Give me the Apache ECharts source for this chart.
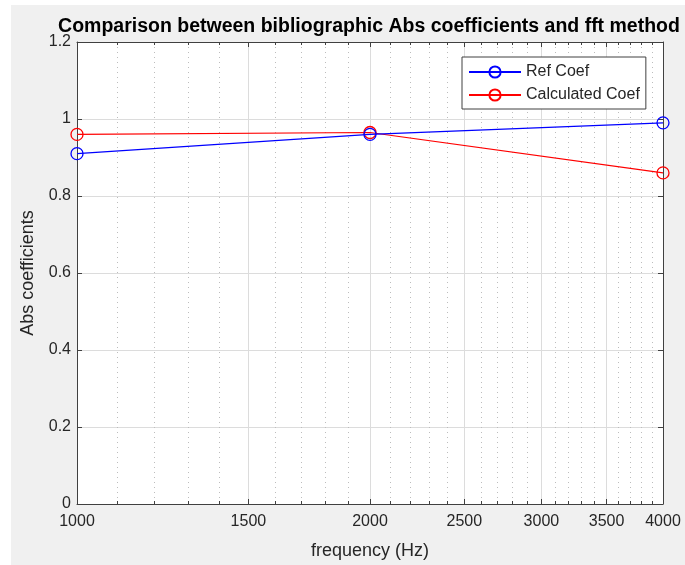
<!DOCTYPE html>
<html>
<head>
<meta charset="utf-8">
<script src="https://cdn.jsdelivr.net/npm/echarts@6/dist/echarts.min.js"></script>
<style>
html,body{margin:0;padding:0;background:#ffffff;width:685px;height:565px;overflow:hidden;}
#chart{position:absolute;left:11px;top:5px;width:674px;height:560px;background:#f0f0f0;}
</style>
</head>
<body>
<div id="chart"></div>
<script>
// ---- data ----
var frequencies = [1000, 2000, 4000];
var refCoef = [0.91, 0.96, 0.99];
var calcCoef = [0.96, 0.965, 0.86];
var xTickLabels = [1000, 1500, 2000, 2500, 3000, 3500, 4000];
var yTicks = [0, 0.2, 0.4, 0.6, 0.8, 1, 1.2];
var seriesNames = ['Ref Coef', 'Calculated Coef'];
var titleText = 'Comparison between bibliographic Abs coefficients and fft method';
var xName = 'frequency (Hz)';
var yName = 'Abs coefficients';

// ---- helpers ----
function lg(v) { return Math.log10(v); }
var xMin = lg(1000), xMax = lg(4000);
var majorVals = xTickLabels.map(lg);
var minorVals = [];
for (var f = 1100; f < 4000; f += 100) {
  if (xTickLabels.indexOf(f) < 0) minorVals.push(lg(f));
}
function pairs(vals) {
  return frequencies.map(function (f, i) { return [lg(f), vals[i]]; });
}

var axisColor = '#404040';
var textColor = '#262626';
var font = 'Liberation Sans, Arial, Helvetica, sans-serif';

var chart = echarts.init(document.getElementById('chart'));
chart.setOption({
  animation: false,
  backgroundColor: '#f0f0f0',
  title: {
    text: titleText,
    left: 358,
    textAlign: 'center',
    top: 12,
    padding: 0,
    textStyle: { fontFamily: font, fontSize: 19.5, fontWeight: 'bold', color: '#000' }
  },
  grid: {
    left: 65, right: 22, top: 37, bottom: 60,
    show: true, backgroundColor: '#ffffff', borderWidth: 0
  },
  legend: {
    orient: 'vertical',
    left: 451, top: 52,
    padding: [7, 6, 6, 6],
    itemWidth: 52, itemHeight: 14, itemGap: 7,
    backgroundColor: '#ffffff',
    borderColor: '#404040', borderWidth: 1,
    data: seriesNames,
    textStyle: { fontFamily: font, fontSize: 16, color: textColor }
  },
  xAxis: [
    {
      type: 'value', min: xMin, max: xMax, position: 'bottom',
      name: xName, nameLocation: 'middle', nameGap: 38,
      nameTextStyle: { fontFamily: font, fontSize: 18, color: textColor },
      axisLine: { show: true, lineStyle: { color: axisColor, width: 1 } },
      axisTick: { show: true, inside: true, length: 5, customValues: majorVals, lineStyle: { color: axisColor } },
      axisLabel: {
        show: true, customValues: majorVals, margin: 10,
        fontFamily: font, fontSize: 16, color: textColor,
        formatter: function (v) { return String(Math.round(Math.pow(10, v))); }
      },
      splitLine: { show: true, lineStyle: { color: '#dcdcdc', width: 1 } }
    },
    {
      type: 'value', min: xMin, max: xMax, position: 'bottom',
      axisLine: { show: false },
      axisTick: { show: true, inside: true, length: 3, customValues: minorVals, lineStyle: { color: axisColor } },
      axisLabel: { show: false, customValues: minorVals },
      splitLine: { show: true, lineStyle: { color: '#bdbdbd', width: 1, type: [1, 4] } }
    },
    {
      type: 'value', min: xMin, max: xMax, position: 'top',
      axisLine: { show: true, lineStyle: { color: axisColor, width: 1 } },
      axisTick: { show: true, inside: true, length: 5, customValues: majorVals, lineStyle: { color: axisColor } },
      axisLabel: { show: false, customValues: majorVals },
      splitLine: { show: false }
    },
    {
      type: 'value', min: xMin, max: xMax, position: 'top',
      axisLine: { show: false },
      axisTick: { show: true, inside: true, length: 3, customValues: minorVals, lineStyle: { color: axisColor } },
      axisLabel: { show: false, customValues: minorVals },
      splitLine: { show: false }
    }
  ],
  yAxis: [
    {
      type: 'value', min: 0, max: 1.2, interval: 0.2, position: 'left',
      name: yName, nameLocation: 'middle', nameGap: 40, nameRotate: 90,
      nameTextStyle: { fontFamily: font, fontSize: 18, color: textColor },
      axisLine: { show: true, lineStyle: { color: axisColor, width: 1 } },
      axisTick: { show: true, inside: true, length: 5, lineStyle: { color: axisColor } },
      axisLabel: { show: true, margin: 6, fontFamily: font, fontSize: 16, color: textColor },
      splitLine: { show: true, lineStyle: { color: '#dcdcdc', width: 1 } }
    },
    {
      type: 'value', min: 0, max: 1.2, interval: 0.2, position: 'right',
      axisLine: { show: true, lineStyle: { color: axisColor, width: 1 } },
      axisTick: { show: true, inside: true, length: 5, lineStyle: { color: axisColor } },
      axisLabel: { show: false },
      splitLine: { show: false }
    }
  ],
  series: [
    {
      name: seriesNames[0], type: 'line', xAxisIndex: 0, yAxisIndex: 0,
      data: pairs(refCoef),
      symbol: 'circle', symbolSize: 12,
      lineStyle: { color: '#0000ff', width: 1.2 },
      itemStyle: { color: 'rgba(0,0,0,0)', borderColor: '#0000ff', borderWidth: 1.3 },
      z: 3
    },
    {
      name: seriesNames[1], type: 'line', xAxisIndex: 0, yAxisIndex: 0,
      data: pairs(calcCoef),
      symbol: 'circle', symbolSize: 12,
      lineStyle: { color: '#ff0000', width: 1.2 },
      itemStyle: { color: 'rgba(0,0,0,0)', borderColor: '#ff0000', borderWidth: 1.3 },
      z: 2
    }
  ]
});
</script>
</body>
</html>
